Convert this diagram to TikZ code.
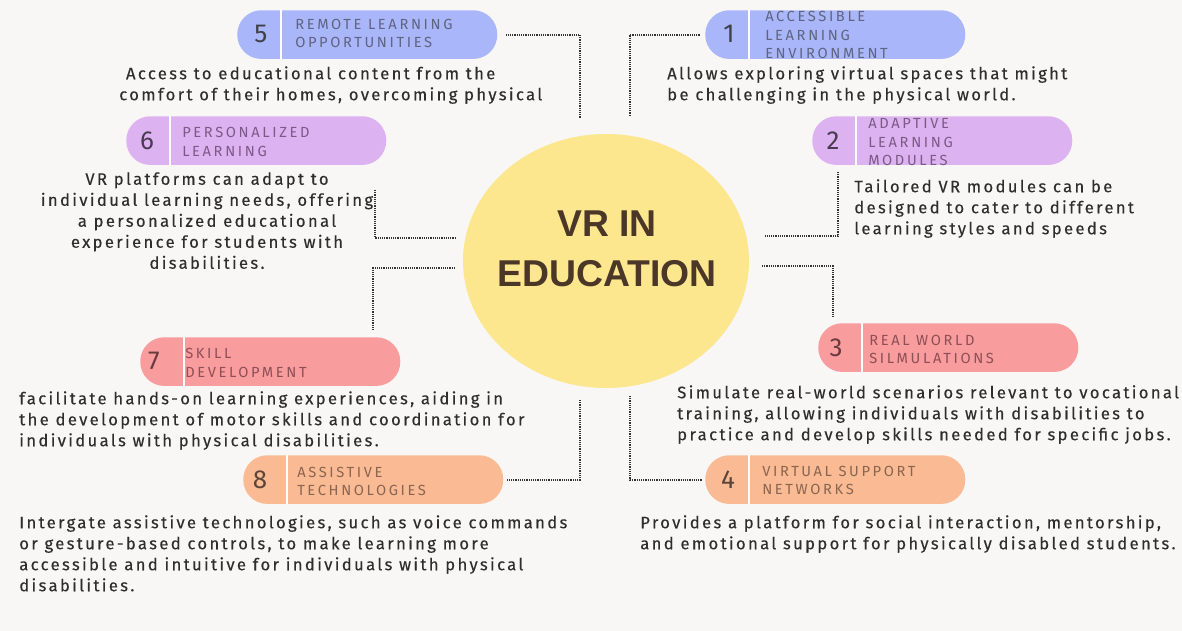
\documentclass[tikz,border=0pt]{standalone}
\usepackage{fontspec}
\setmainfont{Fira Sans}
\newfontfamily\bodyfont[LetterSpace=14,FakeBold=0.25]{Fira Sans}
\newfontfamily\labelfont[LetterSpace=18]{Fira Sans}
\newfontfamily\numfont{Fira Sans}
\newfontfamily\titlefont{Liberation Sans}
\usetikzlibrary{shapes.geometric}

\definecolor{bgcol}{HTML}{F8F7F5}
\definecolor{hubcol}{HTML}{FCE68E}
\definecolor{titlecol}{HTML}{4A3728}
\definecolor{bodycol}{HTML}{2E2E2E}
\definecolor{dotcol}{HTML}{333333}
\definecolor{bluepill}{HTML}{A9B6F9}
\definecolor{lilacpill}{HTML}{DDB2F0}
\definecolor{pinkpill}{HTML}{F89C9E}
\definecolor{peachpill}{HTML}{F9BA94}
\definecolor{bluelbl}{HTML}{5F6480}
\definecolor{lilaclbl}{HTML}{7B5A87}
\definecolor{pinklbl}{HTML}{8E4F55}
\definecolor{peachlbl}{HTML}{8A6550}
\definecolor{bluenum}{HTML}{404048}
\definecolor{lilacnum}{HTML}{4A3A50}
\definecolor{pinknum}{HTML}{6A3A3E}
\definecolor{peachnum}{HTML}{5A4538}

\tikzset{
  pill/.style={anchor=north west, inner sep=0pt, minimum width=195pt,
    minimum height=36.5pt, rounded corners=18pt},
  divider/.style={draw=white, line width=2pt},
  num/.style={font=\numfont\fontsize{19.5pt}{20pt}\selectfont, inner sep=0pt},
  lbl/.style={anchor=west, inner sep=0pt, align=left,
    font=\labelfont\fontsize{11pt}{13.9pt}\selectfont},
  body/.style={anchor=north west, inner sep=0pt, align=left, text=bodycol,
    font=\bodyfont\fontsize{12.5pt}{15.75pt}\selectfont},
  bodyc/.style={body, anchor=north, align=center},
  conn/.style={draw=dotcol, line width=1.5pt, dash pattern=on 0.9pt off 0.75pt},
}

\begin{document}
\begin{tikzpicture}[x=0.75pt, y=-0.75pt]
  % canvas
  \fill[bgcol] (0,0) rectangle (1182,631);
  \useasboundingbox (0,0) rectangle (1182,631);

  % central hub
  \node[ellipse, fill=hubcol, minimum width=214.5pt, minimum height=190.5pt,
        inner sep=0pt] (hub) at (606,261) {};
  \node[align=center, text=titlecol, inner sep=0pt,
        font=\titlefont\bfseries\fontsize{28pt}{37.5pt}\selectfont] (title) at (607,249)
        {VR IN\\EDUCATION};

  % pills
  \node[pill, fill=bluepill]  (p5) at (237,10)  {};
  \node[pill, fill=bluepill]  (p1) at (705,10)  {};
  \node[pill, fill=lilacpill] (p6) at (126,116) {};
  \node[pill, fill=lilacpill] (p2) at (812,116) {};
  \node[pill, fill=pinkpill]  (p7) at (140,337) {};
  \node[pill, fill=pinkpill]  (p3) at (818,323) {};
  \node[pill, fill=peachpill] (p8) at (243,455) {};
  \node[pill, fill=peachpill] (p4) at (705,455) {};

  % white dividers between number and label
  \foreach \p in {p5,p1,p6,p2,p7,p3,p8,p4}
    \draw[divider] (\p.north west) ++(44,0) -- ++(0,48.6);

  % numbers
  \node[num, text=bluenum]  (n5) at (261,34)  {5};
  \node[num, text=bluenum]  (n1) at (729,34)  {1};
  \node[num, text=lilacnum] (n6) at (147,141) {6};
  \node[num, text=lilacnum] (n2) at (833,141) {2};
  \node[num, text=pinknum]  (n7) at (154,361) {7};
  \node[num, text=pinknum]  (n3) at (836,348) {3};
  \node[num, text=peachnum] (n8) at (260,480) {8};
  \node[num, text=peachnum] (n4) at (728,480) {4};

  % labels
  \node[lbl, text=bluelbl]  (l5) at (295,33.5) {REMOTE LEARNING\\OPPORTUNITIES};
  \node[lbl, text=bluelbl]  (l1) at (765,35)   {ACCESSIBLE\\LEARNING\\ENVIRONMENT};
  \node[lbl, text=lilaclbl] (l6) at (182,142)  {PERSONALIZED\\LEARNING};
  \node[lbl, text=lilaclbl] (l2) at (868,142.5){ADAPTIVE\\LEARNING\\MODULES};
  \node[lbl, text=pinklbl]  (l7) at (185,363)  {SKILL\\DEVELOPMENT};
  \node[lbl, text=pinklbl]  (l3) at (869,349.5){REAL WORLD\\SILMULATIONS};
  \node[lbl, text=peachlbl] (l8) at (297,481.5){ASSISTIVE\\TECHNOLOGIES};
  \node[lbl, text=peachlbl] (l4) at (762,480.5){VIRTUAL SUPPORT\\NETWORKS};

  % descriptions
  \node[body] (t5) at (119,66)
    {\ Access to educational content from the\\comfort of their homes, overcoming physical};
  \node[body] (t1) at (667,66)
    {Allows exploring virtual spaces that might\\be challenging in the physical world.};
  \node[body] (t2) at (854,179)
    {Tailored VR modules can be\\designed to cater to different\\learning styles and speeds};
  \node[bodyc] (t6) at (207,172)
    {VR platforms can adapt to\\individual learning needs, offering\\a personalized educational\\experience for students with\\disabilities.};
  \node[body] (t7) at (19,391)
    {facilitate hands-on learning experiences, aiding in\\the development of motor skills and coordination for\\individuals with physical disabilities.};
  \node[body] (t3) at (677,385)
    {Simulate real-world scenarios relevant to vocational\\training, allowing individuals with disabilities to\\practice and develop skills needed for specific jobs.};
  \node[body] (t8) at (19,515)
    {Intergate assistive technologies, such as voice commands\\or gesture-based controls, to make learning more\\accessible and intuitive for individuals with physical\\disabilities.};
  \node[body] (t4) at (640,515)
    {Provides a platform for social interaction, mentorship,\\and emotional support for physically disabled students.};

  % connector end points
  \coordinate (c5) at (580,118);
  \coordinate (c1) at (630,116);
  \coordinate (c6a) at (375,190);
  \coordinate (c6b) at (455,238);
  \coordinate (c2a) at (838,172);
  \coordinate (c2b) at (765,236);
  \coordinate (c7a) at (455,268);
  \coordinate (c7b) at (373,330);
  \coordinate (c3a) at (762,266);
  \coordinate (c3b) at (833,318);
  \coordinate (c8) at (580,400);
  \coordinate (c4) at (630,396);

  % dotted connectors
  \draw[conn, shorten <=6pt] (p5.east) -| (c5);
  \draw[conn, shorten <=4pt] (p1.west) -| (c1);
  \draw[conn] (c6a) |- (c6b);
  \draw[conn] (c2a) |- (c2b);
  \draw[conn] (c7a) -| (c7b);
  \draw[conn] (c3a) -| (c3b);
  \draw[conn, shorten >=2pt] (c8) |- (p8.east);
  \draw[conn, shorten >=2pt] (c4) |- (p4.west);
\end{tikzpicture}
\end{document}
